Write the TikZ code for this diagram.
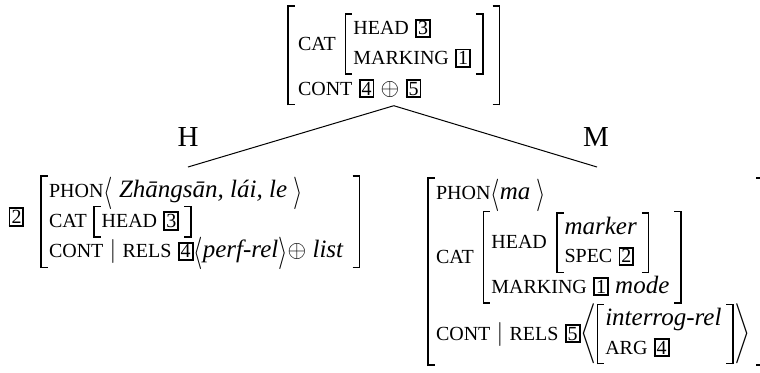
\documentclass[tikz,border=0pt,12pt]{standalone}
\usepackage{graphicx}
\usepackage{fontspec}
\setmainfont{Liberation Serif}

% feature names and structure-sharing tags
\newcommand{\ft}[1]{{\fontsize{10}{11}\selectfont #1}}
\newcommand{\tg}[1]{{\setlength{\fboxsep}{0.5pt}\setlength{\fboxrule}{0.95pt}\fbox{\ft{#1}}}}
% list brackets, a little taller than the text
\newcommand{\la}{\smash{\raisebox{-2pt}{\scalebox{1}[1.35]{$\langle$}}}}
\newcommand{\ra}{\smash{\raisebox{-2pt}{\scalebox{1}[1.35]{$\rangle$}}}}

% attribute-value matrix with square brackets drawn from rules
\newdimen\avmH \newdimen\avmD
\newlength\avmt \setlength\avmt{0.8pt}
\newlength\avmw \setlength\avmw{3pt}
\newlength\avmp \setlength\avmp{0.8pt}
\newcommand{\avmx}[3]{% left gap, right gap, rows
  \begingroup
  \setbox0=\hbox{\begin{tabular}{@{\hspace{#1}}l@{\hspace{#2}}}#3\end{tabular}}%
  \avmH=\dimexpr\ht0+\avmp\relax
  \avmD=\dimexpr\dp0+\avmp\relax
  \mbox{\rule[-\avmD]{\avmt}{\dimexpr\avmH+\avmD\relax}%
    \raisebox{\dimexpr\avmH-\avmt\relax}{\rule{\avmw}{\avmt}}\hspace{-\avmw}%
    \raisebox{-\avmD}{\rule{\avmw}{\avmt}}\hspace{-\avmw}%
    \copy0
    \raisebox{\dimexpr\avmH-\avmt\relax}{\rule{\avmw}{\avmt}}\hspace{-\avmw}%
    \raisebox{-\avmD}{\rule{\avmw}{\avmt}}%
    \rule[-\avmD]{\avmt}{\dimexpr\avmH+\avmD\relax}}%
  \endgroup}
\newcommand{\avm}[1]{\avmx{3.5pt}{2.5pt}{#1}}
\newcommand{\fsp}{\hspace{4.5pt}}

\tikzset{
  avmnode/.style={inner sep=0pt, anchor=north west,
    font=\fontsize{12.5}{14.4}\selectfont},
  tagnode/.style={inner sep=0pt},
  daughter/.style={inner sep=0pt, anchor=base, font=\fontsize{14.5}{17}\selectfont},
  branch/.style={line width=0.5pt}
}

\begin{document}
\begin{tikzpicture}[x=0.5pt,y=-0.5pt]
\useasboundingbox (0,0) rectangle (760,372);
\clip (0,0) rectangle (760,372);

% mother
\node[avmnode] (mother) at (287,5) {%
  \avmx{4.5pt}{4.5pt}{\rule{0pt}{21.5pt}\ft{CAT}\fsp\avm{\ft{HEAD} \tg{3}\\[0.5pt] \ft{MARKING} \tg{1}}\\[2.5pt]
       \ft{CONT} \tg{4} $\oplus$ \tg{5}}};

% head daughter
\node[tagnode] (tagtwo) at (16.5,217) {\tg{2}};
\node[avmnode] (head) at (40,175) {%
  \avmx{3.5pt}{4.5pt}{\ft{PHON}\la\ \textit{Zhāngsān, lái, le}\ \ra\\
       \ft{CAT} \avm{\ft{HEAD} \tg{3}}\\
       \ft{CONT} $|$ \ft{RELS} \tg{4}\la\textit{perf-rel}\ra$\oplus$ \textit{list}}};

% marker daughter
\node[avmnode] (marker) at (427,177) {%
  \avmx{3.5pt}{3pt}{\ft{PHON}\la\textit{ma}\ \ra\\[1.5pt]
       \ft{CAT}\fsp\avm{\ft{HEAD}\fsp\avm{\textit{marker}\\ \ft{SPEC} \tg{2}}\\[2.5pt]
                     \ft{MARKING} \tg{1} \textit{mode}}\\[5.5pt]
       \ft{CONT} $|$ \ft{RELS} \tg{5}$\left\langle\hbox{\avm{\textit{interrog-rel}\\ \ft{ARG} \tg{4}}}\right\rangle$}};

% branch labels and branches
\node[daughter] (hlab) at (188,146) {H};
\node[daughter] (mlab) at (596,146) {M};
\coordinate (hend) at (188,167);
\coordinate (mend) at (597,167);
\draw[branch] (mother.south) -- (hend);
\draw[branch] (mother.south) -- (mend);
\end{tikzpicture}
\end{document}
